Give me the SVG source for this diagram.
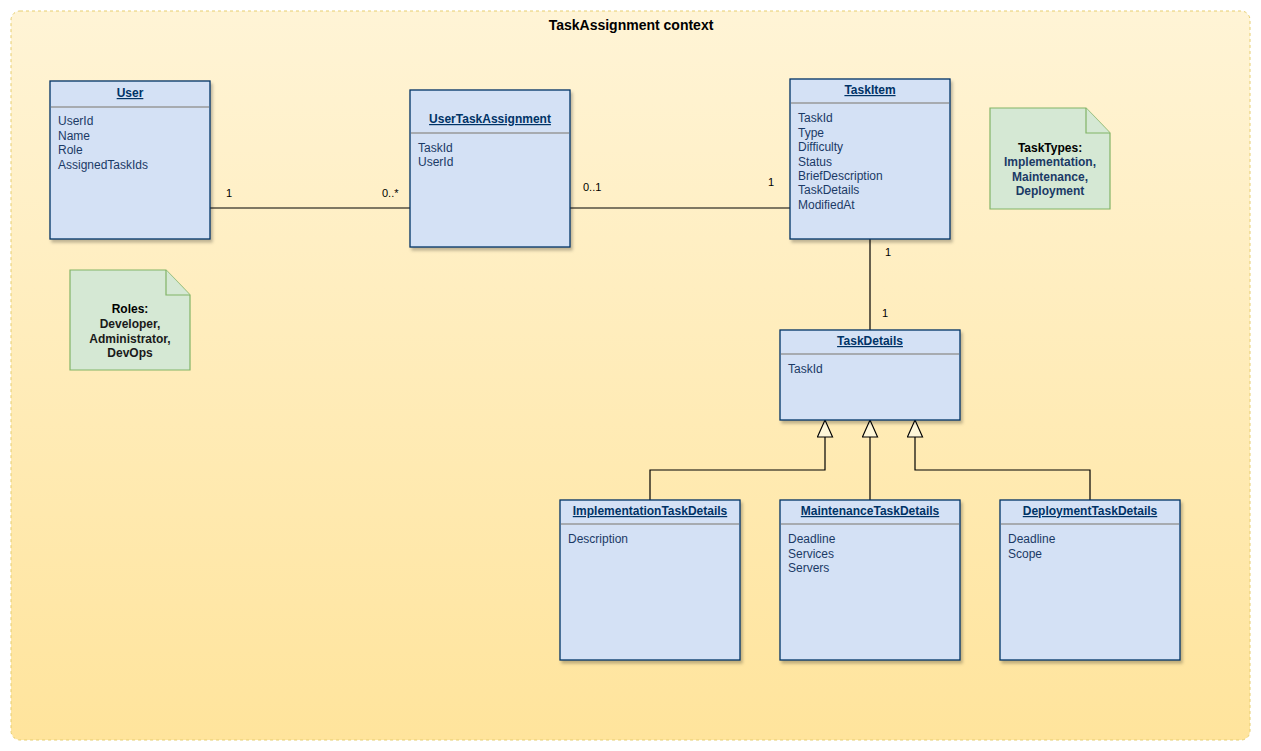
<svg xmlns="http://www.w3.org/2000/svg" width="1261" height="751" viewBox="0 0 1261 751">
<defs>
<linearGradient id="bg" x1="0" y1="0" x2="0" y2="1">
<stop offset="0" stop-color="#fff4d6"/>
<stop offset="1" stop-color="#ffe49c"/>
</linearGradient>
<filter id="sh" x="-10%" y="-10%" width="130%" height="130%">
<feDropShadow dx="2" dy="3" stdDeviation="1.5" flood-color="#000" flood-opacity="0.25"/>
</filter>
<marker id="tri" viewBox="0 0 20 18" refX="19" refY="9" markerWidth="19" markerHeight="17" markerUnits="userSpaceOnUse" orient="auto">
<path d="M1,1 L19,9 L1,17 Z" fill="#fff7d9" stroke="#000" stroke-width="1.2"/>
</marker>
<style>
.box{fill:#d4e1f5;stroke:#003366;stroke-width:1.3;filter:url(#sh)}
.div{stroke:#999;stroke-width:1.3}
.ttl{font-family:"Liberation Sans",Arial,sans-serif;font-size:12px;font-weight:bold;fill:#003366;text-decoration:underline;text-anchor:middle}
.att{font-family:"Liberation Sans",Arial,sans-serif;font-size:12px;fill:#1b3a66}
.lbl{font-family:"Liberation Sans",Arial,sans-serif;font-size:11px;fill:#000}
.note{fill:#d5e8d4;stroke:#82b366;stroke-width:1.2}
.ntx{font-family:"Liberation Sans",Arial,sans-serif;font-size:12px;font-weight:bold;text-anchor:middle}
.ln{stroke:#000;stroke-width:1.2;fill:none}
</style>
</defs>
<g id="container">
<rect x="11" y="11" width="1239" height="729" rx="9" fill="url(#bg)" stroke="#e6cd6e" stroke-dasharray="3 3" stroke-width="1"/>
<text x="631" y="30" font-family="Liberation Sans, Arial, sans-serif" font-size="14" font-weight="bold" text-anchor="middle" fill="#000">TaskAssignment context</text>
</g>
<g id="connectors">
<line class="ln" x1="210" y1="208" x2="410" y2="208"/>
<line class="ln" x1="570" y1="208" x2="790" y2="208"/>
<line class="ln" x1="870" y1="239" x2="870" y2="330"/>
<polyline class="ln" points="650,500 650,470 825,470 825,420" marker-end="url(#tri)"/>
<polyline class="ln" points="870,500 870,420" marker-end="url(#tri)"/>
<polyline class="ln" points="1090,500 1090,470 915,470 915,420" marker-end="url(#tri)"/>
<text class="lbl" x="226" y="197">1</text>
<text class="lbl" x="382" y="197">0..*</text>
<text class="lbl" x="583" y="191">0..1</text>
<text class="lbl" x="768" y="186">1</text>
<text class="lbl" x="885" y="256">1</text>
<text class="lbl" x="882" y="317">1</text>
</g>
<g id="User">
<rect class="box" x="50" y="81" width="160" height="158"/>
<line class="div" x1="51" y1="107" x2="209" y2="107"/>
<text class="ttl" x="130" y="97">User</text>
<text class="att" x="58" y="125">UserId</text>
<text class="att" x="58" y="140">Name</text>
<text class="att" x="58" y="154">Role</text>
<text class="att" x="58" y="169">AssignedTaskIds</text>
</g>
<g id="UserTaskAssignment">
<rect class="box" x="410" y="90" width="160" height="157"/>
<line class="div" x1="411" y1="133" x2="569" y2="133"/>
<text class="ttl" x="490" y="123">UserTaskAssignment</text>
<text class="att" x="418" y="152">TaskId</text>
<text class="att" x="418" y="166">UserId</text>
</g>
<g id="TaskItem">
<rect class="box" x="790" y="79" width="160" height="160"/>
<line class="div" x1="791" y1="103" x2="949" y2="103"/>
<text class="ttl" x="870" y="94">TaskItem</text>
<text class="att" x="798" y="122">TaskId</text>
<text class="att" x="798" y="137">Type</text>
<text class="att" x="798" y="151">Difficulty</text>
<text class="att" x="798" y="166">Status</text>
<text class="att" x="798" y="180">BriefDescription</text>
<text class="att" x="798" y="194">TaskDetails</text>
<text class="att" x="798" y="209">ModifiedAt</text>
</g>
<g id="TaskDetails">
<rect class="box" x="780" y="330" width="180" height="90"/>
<line class="div" x1="781" y1="354" x2="959" y2="354"/>
<text class="ttl" x="870" y="345">TaskDetails</text>
<text class="att" x="788" y="373">TaskId</text>
</g>
<g id="ImplementationTaskDetails">
<rect class="box" x="560" y="500" width="180" height="160"/>
<line class="div" x1="561" y1="524" x2="739" y2="524"/>
<text class="ttl" x="650" y="515">ImplementationTaskDetails</text>
<text class="att" x="568" y="543">Description</text>
</g>
<g id="MaintenanceTaskDetails">
<rect class="box" x="780" y="500" width="180" height="160"/>
<line class="div" x1="781" y1="524" x2="959" y2="524"/>
<text class="ttl" x="870" y="515">MaintenanceTaskDetails</text>
<text class="att" x="788" y="543">Deadline</text>
<text class="att" x="788" y="558">Services</text>
<text class="att" x="788" y="572">Servers</text>
</g>
<g id="DeploymentTaskDetails">
<rect class="box" x="1000" y="500" width="180" height="160"/>
<line class="div" x1="1001" y1="524" x2="1179" y2="524"/>
<text class="ttl" x="1090" y="515">DeploymentTaskDetails</text>
<text class="att" x="1008" y="543">Deadline</text>
<text class="att" x="1008" y="558">Scope</text>
</g>
<g id="RolesNote">
<path class="note" d="M70,270 H166 L190,295 V370 H70 Z"/>
<path class="note" d="M166,270 V295 H190"/>
<text class="ntx" x="130" y="313" fill="#000">Roles:</text>
<text class="ntx" x="130" y="328" fill="#1a1a1a">Developer,</text>
<text class="ntx" x="130" y="343" fill="#1a1a1a">Administrator,</text>
<text class="ntx" x="130" y="357" fill="#1a1a1a">DevOps</text>
</g>
<g id="TaskTypesNote">
<path class="note" d="M990,108 H1086 L1110,133 V209 H990 Z"/>
<path class="note" d="M1086,108 V133 H1110"/>
<text class="ntx" x="1050" y="152" fill="#000">TaskTypes:</text>
<text class="ntx" x="1050" y="166" fill="#1b3a66">Implementation,</text>
<text class="ntx" x="1050" y="181" fill="#1b3a66">Maintenance,</text>
<text class="ntx" x="1050" y="195" fill="#1b3a66">Deployment</text>
</g>
</svg>
